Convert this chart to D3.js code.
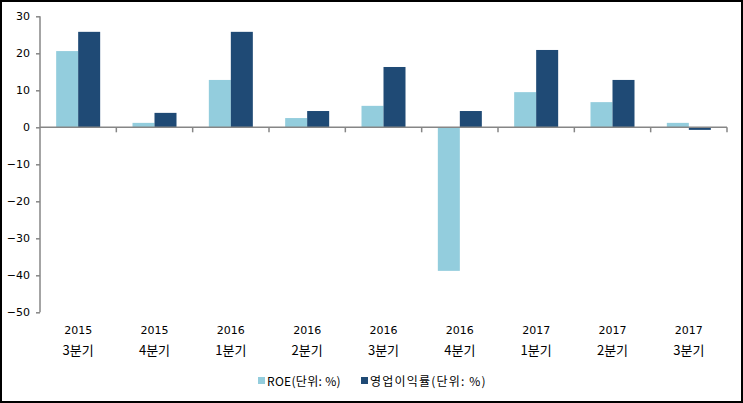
<!DOCTYPE html>
<html><head><meta charset="utf-8">
<script src="https://cdn.jsdelivr.net/npm/d3@7/dist/d3.min.js"></script>
<style>
body{margin:0;background:#fff;}
svg{display:block;font-family:"Noto Sans CJK KR","DejaVu Sans",sans-serif;}
</style></head><body>
<svg id="c" width="743" height="403"></svg>
<script>
const years = ["2015","2015","2016","2016","2016","2016","2017","2017","2017"];
const quarters = ["3분기","4분기","1분기","2분기","3분기","4분기","1분기","2분기","3분기"];
const roe = [20.6, 1.2, 12.8, 2.5, 5.8, -38.8, 9.5, 6.8, 1.2];
const opMargin = [25.8, 3.9, 25.8, 4.4, 16.3, 4.4, 20.9, 12.8, -0.7];
const seriesNames = ["ROE(단위: %)", "영업이익률(단위: %)"];
const colors = ["#93CDDD", "#1F4A75"];
const yTicks = [30, 20, 10, 0, -10, -20, -30, -40, -50];

(function(){
const svg = d3.select("#c");
svg.append("rect").attr("x",1).attr("y",1).attr("width",741).attr("height",401)
  .attr("fill","#fff").attr("stroke","#000").attr("stroke-width",2);

const mLeft = 40, mRight = 727, mTop = 16.3, mBottom = 312.3;
const idx = d3.range(years.length);
const x = d3.scaleBand().domain(idx).range([mLeft, mRight]).paddingInner(0).paddingOuter(0);
const y = d3.scaleLinear().domain([-50, 30]).range([mBottom, mTop]);
const inner = d3.scaleBand().domain([0,1]).range([0, 44]);
const groupOff = (x.bandwidth() - 44) / 2;

const data = idx.map(i => [roe[i], opMargin[i]]);
const g = svg.append("g");
idx.forEach(i => {
  [0,1].forEach(s => {
    const v = data[i][s];
    g.append("rect")
      .attr("x", x(i) + groupOff + inner(s))
      .attr("width", inner.bandwidth())
      .attr("y", y(Math.max(0, v)))
      .attr("height", Math.abs(y(v) - y(0)))
      .attr("fill", colors[s]);
  });
});

const yAxis = d3.axisLeft(y).tickValues(yTicks).tickSize(4).tickPadding(6).tickFormat(d3.format("d"));
const ya = svg.append("g").attr("transform", `translate(${mLeft},0)`).call(yAxis);
ya.selectAll("path,line").attr("stroke","#868686").attr("stroke-width",1.5);
ya.select(".domain").attr("d", `M0,${mTop}V${mBottom}`);
ya.selectAll("text").attr("font-size", 11).attr("fill","#000")
  .attr("font-family","\"DejaVu Sans\",sans-serif");

const xa = svg.append("g");
xa.append("line").attr("x1", mLeft).attr("x2", mRight).attr("y1", y(0)).attr("y2", y(0))
  .attr("stroke","#868686").attr("stroke-width",1.5);
d3.range(1, years.length + 1).forEach(k => {
  const xx = k < years.length ? x(k) : mRight;
  xa.append("line").attr("x1", xx).attr("x2", xx).attr("y1", y(0)).attr("y2", y(0) + 5)
    .attr("stroke","#868686").attr("stroke-width",1.5);
});

idx.forEach(i => {
  const cx = x(i) + x.bandwidth()/2;
  svg.append("text").attr("x", cx).attr("y", 334).attr("text-anchor","middle")
    .attr("font-size", 11).attr("font-family","\"DejaVu Sans\",sans-serif").text(years[i]);
  svg.append("text").attr("x", cx).attr("y", 355).attr("text-anchor","middle")
    .attr("font-size", 13).text(quarters[i]);
});

const legendX = [258, 361];
const legendSpacing = [0.3, 1.2];
seriesNames.forEach((n, s) => {
  svg.append("rect").attr("x", legendX[s]).attr("y", 377).attr("width", 7).attr("height", 7).attr("fill", colors[s]);
  svg.append("text").attr("x", legendX[s] + 9).attr("y", 385.5).attr("font-size", 12)
    .attr("letter-spacing", legendSpacing[s]).text(n);
});
})();
</script>
</body></html>
